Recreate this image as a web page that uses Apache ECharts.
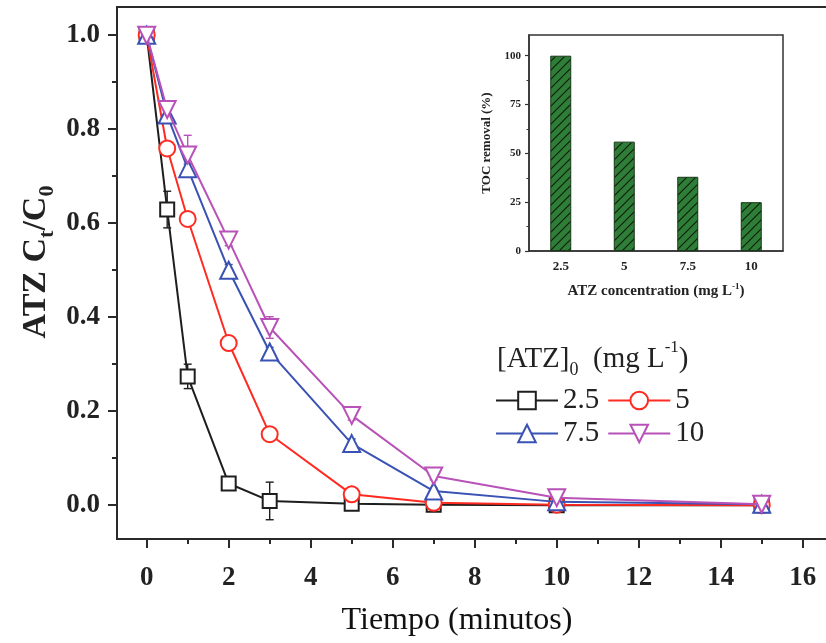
<!DOCTYPE html>
<html>
<head>
<meta charset="utf-8">
<script src="https://cdn.jsdelivr.net/npm/echarts@6/dist/echarts.min.js"></script>
<style>
html,body{margin:0;padding:0;background:#fff;overflow:hidden;}
#main{width:826px;height:643px;}
</style>
</head>
<body>
<div id="main"></div>
<script>
// ---- data ----
const times = [0, 0.5, 1, 2, 3, 5, 7, 10, 15];
const seriesNames = ['2.5', '5', '7.5', '10'];
const c25 = [1.0, 0.629, 0.274, 0.046, 0.009, 0.003, 0.001, 0.0, 0.0];
const c5  = [1.0, 0.759, 0.609, 0.345, 0.151, 0.023, 0.005, 0.001, 0.0];
const c75 = [1.0, 0.830, 0.716, 0.500, 0.326, 0.131, 0.030, 0.007, 0.002];
const c10 = [1.0, 0.842, 0.745, 0.564, 0.378, 0.191, 0.062, 0.016, 0.002];
const e25 = [0, 0.039, 0.026, 0.012, 0.040, 0.006, 0.004, 0, 0];
const e5  = [0, 0.008, 0.010, 0.010, 0.010, 0.008, 0.006, 0.006, 0];
const e75 = [0, 0.010, 0.010, 0.012, 0.010, 0.010, 0.006, 0.006, 0.006];
const e10 = [0, 0.012, 0.042, 0.012, 0.023, 0.010, 0.008, 0.008, 0.006];
const xMajorTicks = [0, 2, 4, 6, 8, 10, 12, 14, 16];
const xMinorTicks = [1, 3, 5, 7, 9, 11, 13, 15];
const yMajorTicks = [0, 0.2, 0.4, 0.6, 0.8, 1.0];
const yMinorTicks = [0.1, 0.3, 0.5, 0.7, 0.9];
// inset
const insetCats = ['2.5', '5', '7.5', '10'];
const tocRemoval = [100, 56, 38, 25];
const insetYMajor = [0, 25, 50, 75, 100];
const insetYMinor = [12.5, 37.5, 62.5, 87.5];

// ---- styles ----
const FONT = "'Liberation Serif','Times New Roman',serif";
const AX = '#2a2a2a';
const colors = ['#1e1e1e', '#ff2b22', '#3a52b4', '#b852b8'];
const symbols = ['rect', 'circle', 'triangle', 'triangle'];
const symRot = [0, 0, 0, 180];
const symSize = [14, 16, 17, 17];
const values = [c25, c5, c75, c10];
const errs = [e25, e5, e75, e10];

// hatch pattern
const pat = document.createElement('canvas');
pat.width = 9; pat.height = 9;
const pc = pat.getContext('2d');
pc.fillStyle = '#2f7e38';
pc.fillRect(0, 0, 9, 9);
pc.strokeStyle = '#0d1f0d';
pc.lineWidth = 1.2;
pc.beginPath();
pc.moveTo(-1, 10); pc.lineTo(10, -1);
pc.moveTo(-1, 1); pc.lineTo(1, -1);
pc.moveTo(8, 10); pc.lineTo(10, 8);
pc.stroke();

const chart = echarts.init(document.getElementById('main'), null, {renderer: 'canvas'});

const lineSeries = seriesNames.map((n, k) => ({
  name: n,
  type: 'line',
  xAxisIndex: 0, yAxisIndex: 0,
  data: times.map((t, i) => [t, values[k][i]]),
  symbol: symbols[k],
  symbolRotate: symRot[k],
  symbolSize: symSize[k],
  showAllSymbol: true,
  lineStyle: {color: colors[k], width: 2},
  itemStyle: {color: '#fff', borderColor: colors[k], borderWidth: 2},
  emphasis: {disabled: true},
  z: 5 + k
}));

const errSeries = seriesNames.map((n, k) => ({
  name: 'err' + n,
  type: 'custom',
  xAxisIndex: 0, yAxisIndex: 0,
  data: times.map((t, i) => [t, values[k][i] - errs[k][i], values[k][i] + errs[k][i]]).filter((d, i) => errs[k][i] > 0),
  encode: {x: 0, y: [1, 2]},
  z: 2 + k,
  silent: true,
  renderItem: function (params, api) {
    const lo = api.coord([api.value(0), api.value(1)]);
    const hi = api.coord([api.value(0), api.value(2)]);
    const hw = 4;
    const st = {stroke: colors[k], lineWidth: 1.4};
    return {
      type: 'group',
      children: [
        {type: 'line', shape: {x1: lo[0], y1: lo[1], x2: hi[0], y2: hi[1]}, style: st},
        {type: 'line', shape: {x1: lo[0] - hw, y1: lo[1], x2: lo[0] + hw, y2: lo[1]}, style: st},
        {type: 'line', shape: {x1: hi[0] - hw, y1: hi[1], x2: hi[0] + hw, y2: hi[1]}, style: st}
      ]
    };
  }
}));

const legendCommon = {
  orient: 'horizontal',
  padding: 0,
  itemWidth: 62,
  itemHeight: 22,
  itemGap: 8,
  selectedMode: false,
  textStyle: {fontFamily: FONT, fontSize: 29, color: '#222', padding: [0, 0, 0, 0]}
};

const option = {
  animation: false,
  backgroundColor: '#fff',
  grid: [
    {left: 117, top: 7, width: 720, bottom: 104, outerBoundsMode: 'none', containLabel: false, show: true, borderColor: AX, borderWidth: 2, backgroundColor: 'transparent'},
    {left: 529, top: 35, width: 254, height: 216, outerBoundsMode: 'none', containLabel: false, show: true, borderColor: '#333', borderWidth: 1.5, backgroundColor: 'transparent'}
  ],
  xAxis: [
    {
      type: 'value', gridIndex: 0, min: -0.724, max: 16.836,
      splitLine: {show: false},
      axisLine: {show: true, onZero: false, lineStyle: {color: AX, width: 2}},
      axisTick: {show: true, inside: false, length: 9, customValues: xMajorTicks, lineStyle: {color: AX, width: 2}},
      axisLabel: {show: true, customValues: xMajorTicks, margin: 26, fontFamily: FONT, fontWeight: 'bold', fontSize: 27, color: '#222'}
    },
    {
      type: 'value', gridIndex: 0, min: -0.724, max: 16.836, position: 'bottom',
      splitLine: {show: false},
      axisLine: {show: false, onZero: false},
      axisTick: {show: true, inside: false, length: 5, customValues: xMinorTicks, lineStyle: {color: AX, width: 2}},
      axisLabel: {show: false}
    },
    {
      type: 'category', gridIndex: 1, data: insetCats,
      axisLine: {show: true, lineStyle: {color: '#333', width: 1.5}},
      axisTick: {show: false},
      splitLine: {show: false},
      axisLabel: {margin: 9, fontFamily: FONT, fontWeight: 'bold', fontSize: 13, color: '#222'},
      name: 'ATZ concentration (mg L{p|-1})',
      nameLocation: 'middle', nameGap: 31,
      nameTextStyle: {fontFamily: FONT, fontWeight: 'bold', fontSize: 15, color: '#222',
        rich: {p: {fontFamily: FONT, fontWeight: 'bold', fontSize: 9, verticalAlign: 'top', lineHeight: 18, color: '#222'}}}
    }
  ],
  yAxis: [
    {
      type: 'value', gridIndex: 0, min: -0.072, max: 1.06,
      splitLine: {show: false},
      axisLine: {show: true, onZero: false, lineStyle: {color: AX, width: 2}},
      axisTick: {show: true, inside: false, length: 9, customValues: yMajorTicks, lineStyle: {color: AX, width: 2}},
      axisLabel: {show: true, customValues: yMajorTicks, margin: 17, fontFamily: FONT, fontWeight: 'bold', fontSize: 27, color: '#222',
        formatter: v => Number(v).toFixed(1)}
    },
    {
      type: 'value', gridIndex: 0, min: -0.072, max: 1.06, position: 'left',
      splitLine: {show: false},
      axisLine: {show: false, onZero: false},
      axisTick: {show: true, inside: false, length: 5, customValues: yMinorTicks, lineStyle: {color: AX, width: 2}},
      axisLabel: {show: false}
    },
    {
      type: 'value', gridIndex: 1, min: 0, max: 110.6,
      splitLine: {show: false},
      axisLine: {show: true, lineStyle: {color: '#333', width: 1.5}},
      axisTick: {show: true, inside: false, length: 4, customValues: insetYMajor, lineStyle: {color: '#333', width: 1.2}},
      axisLabel: {show: true, customValues: insetYMajor, margin: 8, fontFamily: FONT, fontWeight: 'bold', fontSize: 11, color: '#222'},
      name: 'TOC removal (%)',
      nameLocation: 'middle', nameGap: 36, nameRotate: 90,
      nameTextStyle: {fontFamily: FONT, fontWeight: 'bold', fontSize: 13, color: '#222'}
    },
    {
      type: 'value', gridIndex: 1, min: 0, max: 110.6, position: 'left',
      splitLine: {show: false},
      axisLine: {show: false},
      axisTick: {show: true, inside: false, length: 2.5, customValues: insetYMinor, lineStyle: {color: '#333', width: 1}},
      axisLabel: {show: false}
    }
  ],
  legend: [
    Object.assign({}, legendCommon, {left: 495, top: 386, data: ['2.5', '5']}),
    Object.assign({}, legendCommon, {left: 495, top: 419, data: ['7.5', '10']})
  ],
  graphic: [
    {
      type: 'text', x: 36, y: 262, rotation: Math.PI / 2,
      style: {
        text: '{b|ATZ C}{s|t}{b|/C}{s|0}',
        align: 'center', verticalAlign: 'middle', textAlign: 'center', textVerticalAlign: 'middle',
        rich: {
          b: {fontFamily: FONT, fontWeight: 'bold', fontSize: 34, lineHeight: 44, fill: '#222'},
          s: {fontFamily: FONT, fontWeight: 'bold', fontSize: 22, lineHeight: 26, verticalAlign: 'bottom', fill: '#222'}
        }
      }
    },
    {
      type: 'text', x: 457, y: 621,
      style: {
        text: 'Tiempo (minutos)', fontFamily: FONT, fontSize: 32, fill: '#111',
        align: 'center', verticalAlign: 'middle', textAlign: 'center', textVerticalAlign: 'middle'
      }
    },
    {
      type: 'text', x: 497, y: 359,
      style: {
        text: '{n|[ATZ]}{s|0}{n|  (mg L}{p|-1}{n|)}',
        align: 'left', verticalAlign: 'middle', textAlign: 'left', textVerticalAlign: 'middle',
        rich: {
          n: {fontFamily: FONT, fontSize: 29, lineHeight: 40, fill: '#222'},
          s: {fontFamily: FONT, fontSize: 18, lineHeight: 22, verticalAlign: 'bottom', fill: '#222'},
          p: {fontFamily: FONT, fontSize: 17, lineHeight: 30, verticalAlign: 'top', fill: '#222'}
        }
      }
    }
  ],
  series: [
    ...errSeries,
    ...lineSeries,
    {
      name: 'TOC',
      type: 'bar',
      xAxisIndex: 2, yAxisIndex: 2,
      data: tocRemoval,
      barWidth: 21,
      itemStyle: {color: {image: pat, repeat: 'repeat'}, borderColor: '#183818', borderWidth: 1},
      emphasis: {disabled: true},
      z: 3
    }
  ]
};
chart.setOption(option);
</script>
</body>
</html>
